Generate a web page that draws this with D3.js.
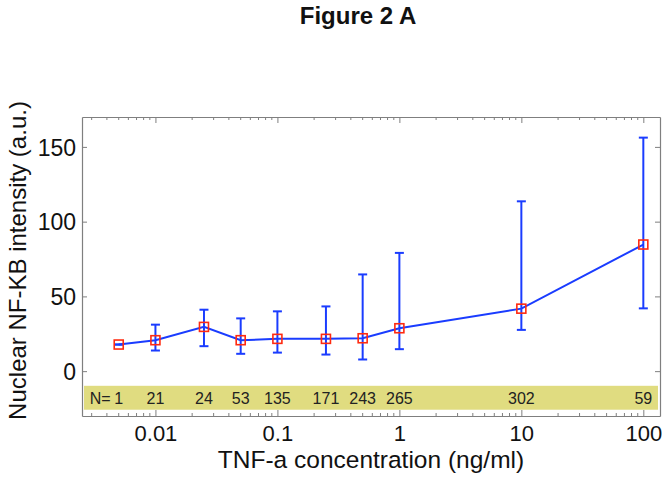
<!DOCTYPE html>
<html>
<head>
<meta charset="utf-8">
<script src="https://cdn.jsdelivr.net/npm/d3@7"></script>
<style>
  html, body { margin: 0; padding: 0; background: #fff; }
  svg { display: block; font-family: "Liberation Sans", Arial, Helvetica, sans-serif; }
</style>
</head>
<body>
<svg id="chart" width="670" height="480"></svg>
<script>
// ---- data ----
const concentrations = [0.005, 0.01, 0.025, 0.05, 0.1, 0.25, 0.5, 1, 10, 100];
const meanIntensity  = [17.8, 20.7, 29.6, 20.7, 21.6, 21.6, 22.0, 28.7, 41.8, 84.7];
const errLower       = [17.8, 13.8, 16.7, 11.6, 12.4, 11.1, 7.8, 14.7, 27.6, 42.0];
const errUpper       = [17.8, 31.1, 41.1, 35.3, 40.0, 43.3, 64.7, 79.1, 113.6, 156.2];
const nCounts        = [1, 21, 24, 53, 135, 171, 243, 265, 302, 59];
const xTickValues    = [0.01, 0.1, 1, 10, 100];
const xTickLabels    = ["0.01", "0.1", "1", "10", "100"];
const yTickValues    = [0, 50, 100, 150];
const xDomain        = [0.0025, 137];
const yDomain        = [-30, 170];
const bandRange      = [-9.8, -25.8];
const bandTextLevel  = -18;

// ---- layout ----
const svg = d3.select("#chart");
const L = 82, R = 660, T = 117, B = 416;
const x = d3.scaleLog().domain(xDomain).range([L, R]);
const y = d3.scaleLinear().domain(yDomain).range([B, T]);
const axisColor = "#7f7f7f";
const blue = "#1a3cff";
const red = "#ff2a10";

// title
svg.append("text").attr("x", 358).attr("y", 24).attr("text-anchor", "middle")
  .attr("font-size", 24).attr("font-weight", "bold").attr("fill", "#111").text("Figure 2 A");

// N band
svg.append("rect").attr("x", L + 2).attr("width", R - L - 4)
  .attr("y", y(bandRange[0])).attr("height", y(bandRange[1]) - y(bandRange[0]))
  .attr("fill", "#e0dc80");

// N labels
const nData = concentrations.map((c, i) => ({ c, n: nCounts[i], i }));
svg.append("g").selectAll("text").data(nData).join("text")
  .attr("x", d => x(d.c)).attr("y", y(bandTextLevel)).attr("dy", "0.36em")
  .attr("text-anchor", "middle").attr("font-size", 16).attr("fill", "#222")
  .text(d => d.n);
svg.append("text").attr("x", x(concentrations[0]) - 8).attr("y", y(bandTextLevel)).attr("dy", "0.36em")
  .attr("text-anchor", "end").attr("font-size", 16).attr("fill", "#222").text("N=");

// axes (box)
const gB = svg.append("g").attr("transform", `translate(0,${B})`)
  .call(d3.axisBottom(x).tickValues(xTickValues).tickFormat((d, i) => xTickLabels[i]).tickSizeInner(-6).tickSizeOuter(0).tickPadding(9));
const gT = svg.append("g").attr("transform", `translate(0,${T})`)
  .call(d3.axisTop(x).tickValues(xTickValues).tickFormat("").tickSizeInner(-6).tickSizeOuter(0));
const gL = svg.append("g").attr("transform", `translate(${L},0)`)
  .call(d3.axisLeft(y).tickValues(yTickValues).tickSizeInner(-5).tickSizeOuter(0).tickPadding(6));
const gR = svg.append("g").attr("transform", `translate(${R},0)`)
  .call(d3.axisRight(y).tickValues(yTickValues).tickFormat("").tickSizeInner(-5).tickSizeOuter(0));

// minor ticks on log axis
const minor = [];
for (let e = -3; e <= 2; e++) for (let m = 2; m <= 9; m++) {
  const v = m * Math.pow(10, e);
  if (v >= xDomain[0] && v <= xDomain[1]) minor.push(v);
}
[[B, -3], [T, 3]].forEach(([yy, len]) => {
  svg.append("g").selectAll("line").data(minor).join("line")
    .attr("x1", d => x(d)).attr("x2", d => x(d)).attr("y1", yy).attr("y2", yy + len)
    .attr("stroke", axisColor).attr("stroke-width", 1);
});

[gB, gT, gL, gR].forEach(g => {
  g.select(".domain").attr("stroke", axisColor).attr("stroke-width", 1.2);
  g.selectAll(".tick line").attr("stroke", axisColor).attr("stroke-width", 1);
  g.selectAll(".tick text").attr("fill", "#111").attr("font-size", 23)
    .attr("font-family", "'Liberation Sans', Arial, Helvetica, sans-serif");
});
gB.selectAll(".tick text").attr("font-size", 22).attr("dy", "0.71em");
gL.selectAll(".tick text").attr("dy", "0.36em");

// axis labels
svg.append("text").attr("x", (L + R) / 2).attr("y", 468).attr("text-anchor", "middle")
  .attr("font-size", 24.5).attr("fill", "#111").text("TNF-a concentration (ng/ml)");
svg.append("text").attr("transform", `translate(26,${(T + B) / 2 - 6}) rotate(-90)`)
  .attr("text-anchor", "middle").attr("font-size", 24).attr("fill", "#111")
  .text("Nuclear NF-KB intensity (a.u.)");

// error bars
const pts = concentrations.map((c, i) => ({ c, m: meanIntensity[i], lo: errLower[i], hi: errUpper[i] }));
const eb = svg.append("g").attr("stroke", blue).attr("stroke-width", 2);
eb.selectAll("line.v").data(pts).join("line").attr("class", "v")
  .attr("x1", d => x(d.c)).attr("x2", d => x(d.c)).attr("y1", d => y(d.lo)).attr("y2", d => y(d.hi));
eb.selectAll("line.t").data(pts).join("line").attr("class", "t")
  .attr("x1", d => x(d.c) - 4.5).attr("x2", d => x(d.c) + 4.5).attr("y1", d => y(d.hi)).attr("y2", d => y(d.hi));
eb.selectAll("line.b").data(pts).join("line").attr("class", "b")
  .attr("x1", d => x(d.c) - 4.5).attr("x2", d => x(d.c) + 4.5).attr("y1", d => y(d.lo)).attr("y2", d => y(d.lo));

// line
svg.append("path").datum(pts)
  .attr("d", d3.line().x(d => x(d.c)).y(d => y(d.m)))
  .attr("fill", "none").attr("stroke", blue).attr("stroke-width", 2);

// markers
svg.append("g").selectAll("rect").data(pts).join("rect")
  .attr("x", d => x(d.c) - 4.5).attr("y", d => y(d.m) - 4.5)
  .attr("width", 9).attr("height", 9)
  .attr("fill", "none").attr("stroke", red).attr("stroke-width", 1.6);
</script>
</body>
</html>
